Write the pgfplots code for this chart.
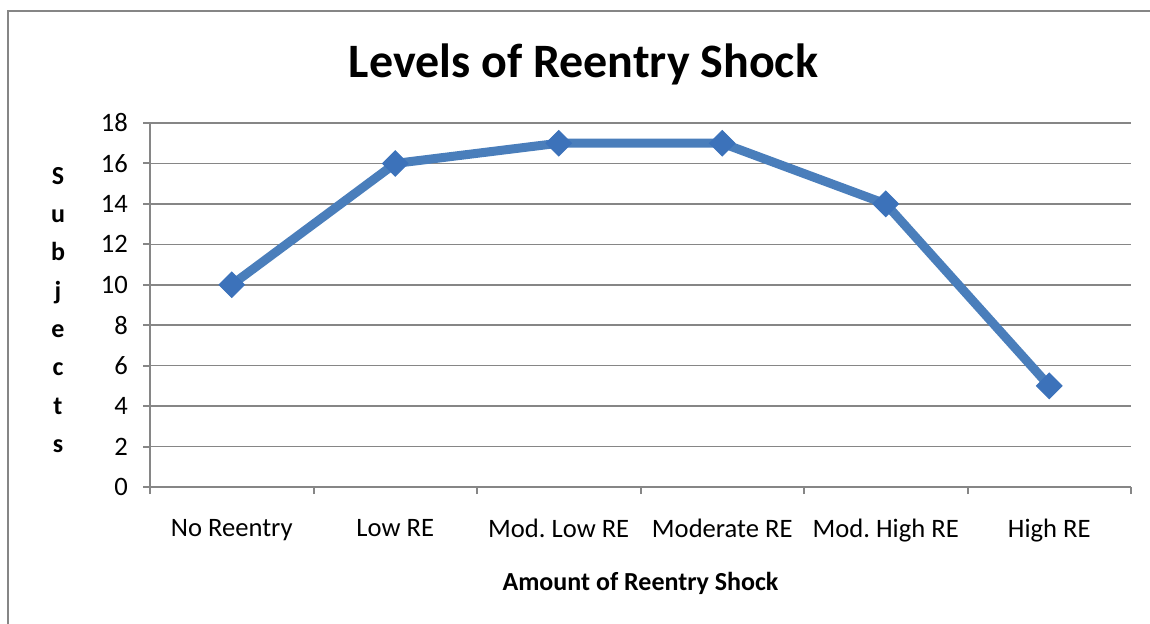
\documentclass[border=0pt]{standalone}
\usepackage{pgfplots}
\pgfplotsset{compat=1.18}
\usepackage{fontspec}
\setmainfont{Carlito}
\definecolor{exblue}{HTML}{4A7EBB}
\definecolor{exmark}{HTML}{3C72BA}
\definecolor{exgray}{HTML}{868686}
\frenchspacing
\begin{document}
\begin{tikzpicture}
\clip (0,0) rectangle (575pt,-312pt);
\useasboundingbox (0,0) rectangle (575pt,-312pt);
\draw[exgray, line width=1pt] (4pt,-5.5pt) rectangle (600pt,-400pt);
\begin{axis}[
  at={(75pt,-243.5pt)}, anchor=south west,
  scale only axis, width=490.5pt, height=182pt,
  xmin=-0.5, xmax=5.5, ymin=0, ymax=18,
  xtick={-0.5,0.5,...,5.5},
  x tick label as interval,
  xticklabels={No Reentry, Low RE, Mod. Low RE, Moderate RE, Mod. High RE, High RE},
  ytick={0,2,...,18},
  axis x line*=bottom, axis y line*=left,
  tick align=outside, major tick length=3.5pt,
  xtick pos=bottom, ytick pos=left,
  ymajorgrids, grid style={exgray, line width=0.8pt},
  axis line style={exgray, line width=1pt},
  tick style={exgray, line width=1pt},
  tick label style={font=\fontsize{13.3}{15}\selectfont, black},
  xticklabel style={yshift=-9pt},
  yticklabel style={xshift=-4pt},
  /pgf/number format/assume math mode=true,
  clip=false,
]
\addplot[exblue, line width=4.5pt, mark=square*, mark size=4.5pt,
  mark options={fill=exmark, draw=exmark, line width=0.5pt, rotate=45}]
  coordinates {(0,10) (1,16) (2,17) (3,17) (4,14) (5,5)};
\end{axis}
\node[anchor=base, font=\fontsize{24}{28}\selectfont\bfseries] at (291.75pt,-39pt) {Levels of Reentry Shock};
\node[anchor=base, font=\fontsize{13}{15}\selectfont\bfseries] at (320.25pt,-295pt) {Amount of Reentry Shock};
\node[align=center, font=\fontsize{13}{19.15}\selectfont\bfseries] at (29pt,-155pt) {S\\u\\b\\j\\e\\c\\t\\s};
\end{tikzpicture}
\end{document}
